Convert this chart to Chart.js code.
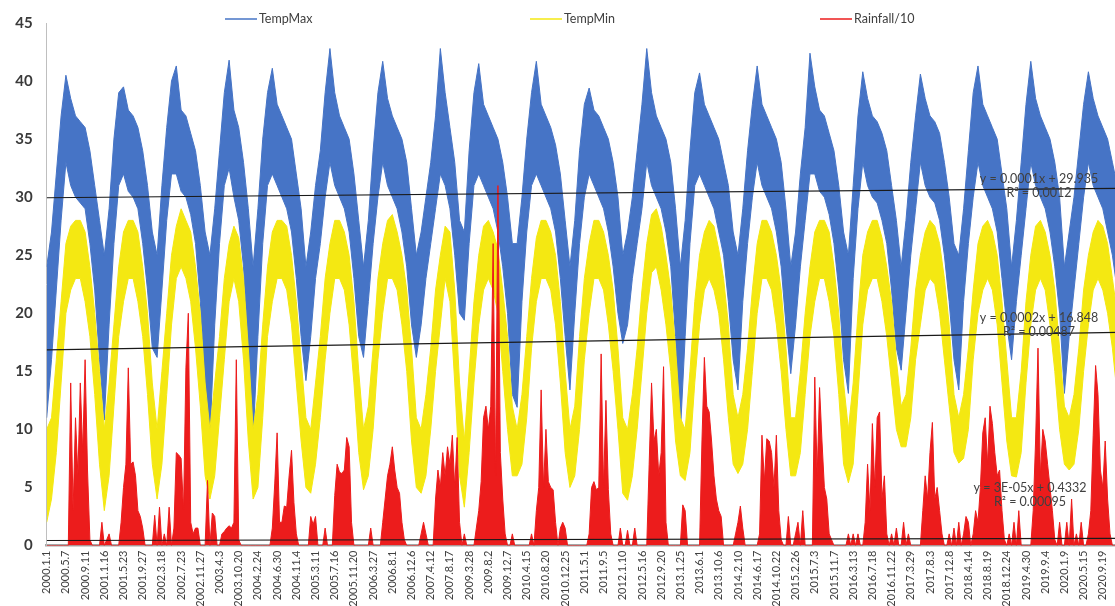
<!DOCTYPE html>
<html>
<head>
<meta charset="utf-8">
<title>TempMax, TempMin and Rainfall/10</title>
<script src="https://cdn.jsdelivr.net/npm/chart.js@4.4.1/dist/chart.umd.min.js"></script>
<style>
  html, body { margin: 0; padding: 0; background: #fff; overflow: hidden; }
  #wrap { width: 1121px; height: 606px; }
</style>
</head>
<body>
<div id="wrap"><canvas id="climateChart" width="1121" height="606"></canvas></div>
<script>
const BLUE = "#4674C6";
const YELLOW = "#F4E812";
const RED = "#EC1C1C";
const TEXT = "#404040";

// one label every 127 daily rows
const tickLabels = [
  "2000.1.1", "2000.5.7", "2000.9.11", "2001.1.16", "2001.5.23", "2001.9.27", "2002.3.18", "2002.7.23",
  "2002.11.27", "2003.4.3", "2003.10.20", "2004.2.24", "2004.6.30", "2004.11.4", "2005.3.11", "2005.7.16",
  "2005.11.20", "2006.3.27", "2006.8.1", "2006.12.6", "2007.4.12", "2007.8.17", "2009.3.28", "2009.8.2",
  "2009.12.7", "2010.4.15", "2010.8.20", "2010.12.25", "2011.5.1", "2011.9.5", "2012.1.10", "2012.5.16",
  "2012.9.20", "2013.1.25", "2013.6.1", "2013.10.6", "2014.2.10", "2014.6.17", "2014.10.22", "2015.2.26",
  "2015.7.3", "2015.11.7", "2016.3.13", "2016.7.18", "2016.11.22", "2017.3.29", "2017.8.3", "2017.12.8",
  "2018.4.14", "2018.8.19", "2018.12.24", "2019.4.30", "2019.9.4", "2020.1.9", "2020.5.15", "2020.9.19"
];

// temperature bands, read as upper / lower edge every quarter label step
const tmaxHi = [
  24, 27, 32, 37, 40.5, 38.5, 37, 36.5, 36, 34, 31, 28,
  25, 29, 35, 39, 39.5, 37.5, 37, 36, 34, 31, 27,
  25, 31, 36, 40, 41.3, 37.5, 37, 35.5, 34, 31, 27,
  25, 29, 34, 39, 41.8, 37.5, 36, 33, 29,
  24, 29, 35, 39, 41.1, 38, 37, 36, 35, 32, 29,
  24, 27, 31, 34, 39, 42.8, 39, 37, 36, 35, 32, 28,
  24, 28, 34, 39, 41.7, 38.5, 37, 36, 35, 33, 29,
  25, 27, 30, 33, 37, 42.8, 39, 36, 33, 28,
  27, 34, 39, 41.5, 38, 37, 36, 35, 33, 30, 26,
  26, 30, 35, 39, 41.7, 38, 37, 36, 34.5, 32, 28,
  24, 28, 34, 38, 39.4, 37.5, 37, 36, 35, 33, 30,
  25, 27, 30, 34, 38, 42.8, 39, 37, 36, 35, 33, 29,
  24, 28, 34, 39, 40.7, 38, 37, 36, 35, 33, 31, 27,
  25, 29, 34, 38, 41.3, 38, 37, 36, 35, 33, 29,
  24, 27, 32, 36, 42.4, 39.5, 37.5, 37, 35.5, 34, 31, 27,
  25, 31, 37, 40.8, 38.5, 37, 36.5, 35.5, 34, 31, 28,
  24, 28, 33, 37, 40.6, 38.5, 37, 36.5, 35.5, 33, 30, 26,
  25, 29, 34, 39, 41.3, 38, 37, 36, 35, 32, 29,
  24, 28, 33, 38, 41.7, 38.5, 37, 36, 35, 33, 30,
  24, 27, 30, 34, 38, 40.8, 38.5, 37, 36, 35, 33, 31
];
const tmaxLo = [
  11, 16, 22, 28, 33, 31, 30, 29.5, 29, 26, 22, 16,
  10.8, 19, 26, 31, 32, 30.5, 30, 29, 26, 22, 17,
  16.2, 22, 28, 32, 32, 30.5, 30, 28.5, 26, 21, 14,
  9.3, 19, 26, 31, 32.5, 30, 28, 24, 17,
  9.2, 18, 26, 31, 32, 31, 30, 29, 27, 23, 18,
  14.2, 18, 23, 26, 30, 33, 31, 30, 29, 27, 23, 18,
  16.2, 21, 26, 30, 33, 31, 30, 29, 27, 24, 19,
  16.2, 19, 23, 26, 29, 32, 31, 29, 25, 20,
  19.4, 26, 31, 32, 31, 30, 29, 27, 24, 20, 13,
  11.9, 21, 27, 31, 32, 31, 30, 29, 27, 23, 18,
  13.4, 20, 26, 30, 32, 31, 30, 29, 27, 24, 20,
  17.4, 19, 23, 26, 29, 33, 31, 30, 29, 27, 24, 18,
  9.7, 18, 26, 31, 32, 31, 30, 29, 27, 25, 21, 16,
  13.4, 21, 26, 30, 33, 31, 30, 29, 27, 24, 19,
  14.8, 19, 24, 28, 32, 32, 30.5, 30, 28.5, 26, 22, 16,
  13.1, 23, 29, 33, 31, 30, 29.5, 28, 26, 22, 17,
  15.1, 20, 25, 29, 33, 31, 30, 29.5, 28, 25, 21, 16,
  13.4, 21, 26, 30, 33, 31, 30, 29, 27, 23, 19,
  16, 21, 25, 29, 33, 31, 30, 29, 27, 24, 20,
  13.1, 18, 22, 26, 30, 33, 31, 30, 29, 27, 25, 22
];
const tminHi = [
  10, 11, 16, 21, 26, 27.5, 28, 28, 27, 24, 20, 15,
  10, 14, 19, 24, 27, 28, 28, 27, 24, 20, 14,
  10, 15, 20, 25, 27.5, 29, 28, 27, 24, 20, 14,
  10, 14, 18, 23, 26, 27.5, 26.5, 23, 17,
  10, 13, 19, 24, 27, 28, 28, 27.5, 25, 21, 16,
  11, 10, 14, 18, 23, 26, 28, 28, 27, 25, 21, 15,
  10, 12, 17, 23, 26, 28, 28.5, 27, 25, 22, 17,
  11, 10, 13, 17, 22, 25, 27.5, 27, 22, 14,
  9, 15, 21, 25, 27.5, 28, 27, 25.5, 22, 18, 12,
  10, 13, 18, 23, 26.5, 28, 28, 27, 25, 21, 15,
  10, 12, 18, 23, 26, 28, 28, 27, 25, 22, 17,
  11, 10, 13, 17, 22, 26, 28.5, 29, 27.5, 25, 22, 17,
  11, 10, 15, 21, 25, 27, 28, 27.5, 25.5, 23, 19, 13,
  11, 13, 17, 22, 26, 28, 28, 27, 25, 22, 17,
  11, 11, 15, 20, 24, 27, 28, 28, 27, 24, 20, 14,
  10, 14, 20, 25, 27, 28, 28, 26.5, 24, 21, 16,
  12, 13, 17, 22, 25, 27, 28, 27.5, 26, 23, 19, 13,
  11, 13, 17, 22, 26, 27.5, 28, 27, 25, 21, 16,
  11, 11, 15, 21, 25, 27.5, 28, 27, 25, 22, 17,
  12, 11, 13, 17, 22, 25, 27, 28, 27.5, 26, 23, 20
];
const tminLo = [
  2, 4, 8, 14, 20, 22, 23, 23, 21, 18, 13, 7,
  3, 6, 12, 18, 21, 23, 23, 21, 18, 13, 7,
  4, 7, 13, 19, 23, 24, 23, 21, 17, 12, 6,
  4, 6, 11, 16, 21, 23, 21, 16, 9,
  4, 5, 11, 18, 21, 23, 23, 22, 19, 14, 9,
  5, 4.5, 7, 11, 16, 20, 23, 23, 22, 19, 14, 8,
  4.8, 6, 10, 16, 20, 23, 23, 22, 19, 15, 9,
  5, 4.5, 6, 10, 15, 19, 23, 21, 14, 6,
  3.3, 8, 14, 19, 22, 23, 22, 20, 15, 10, 6,
  6, 7, 11, 17, 21, 23, 23, 22, 19, 14, 8,
  5, 6, 10, 16, 20, 23, 23, 22, 19, 15, 10,
  4.5, 3.9, 6, 10, 15, 20, 23.5, 24, 22, 19, 15, 9,
  6, 5.6, 8, 14, 19, 22, 23, 22, 20, 16, 11, 7,
  6.2, 7, 10, 15, 20, 23, 23, 22, 19, 15, 10,
  6, 6, 8, 13, 18, 21, 23, 23, 21, 18, 13, 7,
  5.4, 7, 13, 19, 22, 23, 23, 21, 18, 14, 10,
  8.5, 8.5, 11, 16, 19, 22, 23, 22.5, 20, 16, 12, 8,
  7.1, 7.5, 10, 16, 20, 22, 23, 22, 19, 14, 9,
  6, 5.9, 8, 14, 19, 22, 23, 22, 19, 15, 10,
  7, 6.5, 7, 10, 15, 19, 22, 23, 22, 20, 17, 13
];

// rainfall / 10, eight readings per label step
const rain = [
  0, 0, 0, 0, 0, 0, 0, 0,
  0, 0, 14, 3, 11, 6, 14, 8,
  16, 6.5, 0.5, 0, 0, 0, 0, 2,
  0, 0.5, 1, 0, 0, 0, 0, 2,
  5, 7, 15.3, 7, 7.2, 6, 3, 2.5,
  1.5, 0, 0, 0, 0, 2.6, 0, 3.3,
  0, 1, 0, 3.3, 0, 1.5, 8, 7.8,
  7.5, 3, 15.3, 20, 2, 1, 1.5, 1.5,
  0, 0, 0, 5.6, 0, 2.8, 2.5, 0,
  0, 1, 1.2, 1.5, 1.7, 1.5, 2, 16,
  0.5, 0, 0, 0, 0, 0, 0, 0,
  0, 0, 0, 0, 0, 0, 1.5, 5.3,
  9.7, 2, 2, 3.4, 3.3, 6, 8.2, 3.7,
  1, 0, 0, 0, 0, 0, 2.5, 1.8,
  2.5, 0, 0, 0, 1.5, 0, 0, 0,
  4.3, 7, 6.3, 6.2, 6.5, 9.3, 8.5, 2,
  0, 0, 0, 0, 0, 0, 0, 1.5,
  0, 0, 0, 0, 2, 4, 6, 7,
  8.5, 6.5, 5, 4.5, 2, 0.5, 0, 0,
  0, 0, 0, 0, 1, 2, 1, 0,
  0, 0, 4, 6.5, 5, 8, 6, 8.5,
  7, 9.5, 5, 9.3, 2, 0, 1, 0,
  0, 0, 0, 1.5, 3, 5.5, 11, 12,
  10, 12, 26, 6, 31, 8, 4, 1,
  0, 0, 1, 0, 0, 0, 0, 0,
  0, 0, 1, 0, 3, 5, 13.4, 5,
  10, 5.5, 5, 4.8, 2, 0, 1.5, 2,
  1.5, 0, 0, 0, 0, 0, 0, 0,
  0, 0, 1, 5, 5.5, 4.8, 5, 16.5,
  5, 12.5, 4.8, 1, 0, 0, 0, 1.5,
  0, 0, 1.3, 0, 0, 1.5, 0, 0,
  0, 0, 0, 7, 14, 9, 10, 6,
  8, 15.4, 2, 0, 0, 0, 0, 0,
  0, 3.5, 3, 0, 0, 0, 0, 0,
  0, 9, 16.2, 12, 11.5, 9, 6, 4,
  3, 2.5, 0, 0, 0, 0, 0, 1,
  2, 3.4, 1.5, 0, 0, 0, 0, 0,
  0, 1, 9.5, 5.5, 9.2, 9, 8, 5,
  9.5, 3, 0.5, 0, 0, 2.5, 0, 0,
  1, 2, 0, 3, 0, 0, 0, 0,
  14.5, 6, 13.6, 9, 5, 4, 1, 0.5,
  0, 0, 0, 0, 0, 0, 1, 0,
  1, 0, 1, 0, 0, 2, 7, 3,
  10.5, 5, 11, 11.5, 4, 6, 1, 0,
  1, 0, 1.5, 0, 0, 2, 0, 1,
  0, 0, 0, 0, 0, 3, 6, 4,
  8, 10.6, 4, 5, 3, 1, 0, 0,
  1, 0, 1.5, 0, 2, 0, 1, 2.5,
  2, 0, 1, 3, 2, 5, 9.7, 11,
  7, 12, 10.5, 8, 6, 6.5, 3, 0.5,
  0, 1, 0, 2, 0, 3, 0, 0,
  0, 0, 0, 3, 9, 17, 6, 10,
  9, 7, 5, 3, 0.5, 0, 2, 0,
  0, 2, 0, 4, 0, 1, 0, 2,
  0, 0, 1, 3, 9.5, 15.5, 13, 6.5,
  5, 9, 4, 1, 0, 0, 0, 0
];

// linear trendlines: value at first and last row
const trendMax = [29.95, 30.75];
const trendMin = [16.85, 18.35];
const trendRain = [0.43, 0.62];

const X_END = 55.8;
const toPoints = (arr, step) => arr.map((v, i) => ({ x: i * step, y: v }));
const trendPoints = (pair) => [{ x: 0, y: pair[0] }, { x: X_END, y: pair[1] }];

const bandLine = (label, data, color, fill, order) => ({
  label, data, fill, order,
  borderColor: color,
  backgroundColor: color,
  borderWidth: 1,
  pointRadius: 0,
  tension: 0
});

const trendLine = (label, pair) => ({
  label,
  data: trendPoints(pair),
  borderColor: "#1a1a1a",
  borderWidth: 1.2,
  pointRadius: 0,
  fill: false,
  order: 0
});

const legendPlugin = {
  id: "topLegend",
  afterDraw(chart, args, opts) {
    const ctx = chart.ctx;
    ctx.save();
    ctx.font = "12.5px Lato";
    ctx.textBaseline = "middle";
    opts.items.forEach(item => {
      ctx.strokeStyle = item.color;
      ctx.lineWidth = 1.5;
      ctx.beginPath();
      ctx.moveTo(item.x, opts.y);
      ctx.lineTo(item.x + 32, opts.y);
      ctx.stroke();
      ctx.fillStyle = TEXT;
      ctx.fillText(item.text, item.x + 34, opts.y);
    });
    ctx.restore();
  }
};

const trendNotePlugin = {
  id: "trendNotes",
  afterDatasetsDraw(chart, args, opts) {
    const ctx = chart.ctx;
    ctx.save();
    ctx.font = "12.5px Lato";
    ctx.fillStyle = TEXT;
    ctx.textAlign = "center";
    ctx.textBaseline = "middle";
    opts.notes.forEach(n => {
      n.lines.forEach((line, k) => ctx.fillText(line, n.x, n.y + k * 14));
    });
    ctx.restore();
  }
};

const ctx = document.getElementById("climateChart").getContext("2d");
new Chart(ctx, {
  type: "line",
  data: {
    datasets: [
      bandLine("Rainfall/10", toPoints(rain, 0.125), RED, "origin", 1),
      bandLine("TempMin", toPoints(tminHi, 0.25), YELLOW, "+1", 2),
      bandLine("TempMin low", toPoints(tminLo, 0.25), YELLOW, false, 2),
      bandLine("TempMax", toPoints(tmaxHi, 0.25), BLUE, "+1", 3),
      bandLine("TempMax low", toPoints(tmaxLo, 0.25), BLUE, false, 3),
      trendLine("Trend TempMax", trendMax),
      trendLine("Trend TempMin", trendMin),
      trendLine("Trend Rainfall", trendRain)
    ]
  },
  plugins: [legendPlugin, trendNotePlugin],
  options: {
    responsive: false,
    animation: false,
    events: [],
    layout: { autoPadding: false, padding: { left: 0, top: 22, right: 0, bottom: 0 } },
    plugins: {
      legend: { display: false },
      tooltip: { enabled: false },
      topLegend: {
        y: 19,
        items: [
          { text: "TempMax", color: BLUE, x: 225 },
          { text: "TempMin", color: YELLOW, x: 530 },
          { text: "Rainfall/10", color: RED, x: 820 }
        ]
      },
      trendNotes: {
        notes: [
          { lines: ["y = 0.0001x + 29.935", "R\u00B2 = 0.0012"], x: 1039, y: 179 },
          { lines: ["y = 0.0002x + 16.848", "R\u00B2 = 0.00487"], x: 1039, y: 318 },
          { lines: ["y = 3E-05x + 0.4332", "R\u00B2 = 0.00095"], x: 1030, y: 488 }
        ]
      }
    },
    scales: {
      x: {
        type: "linear",
        min: 0,
        max: X_END,
        afterBuildTicks: s => { s.ticks = tickLabels.map((_, i) => ({ value: i })); },
        afterFit: s => { s.height = 60.5; },
        ticks: {
          autoSkip: false,
          minRotation: 90,
          maxRotation: 90,
          padding: 5,
          color: TEXT,
          font: { family: "Lato", size: 11 },
          callback: v => tickLabels[v] ?? ""
        },
        grid: { display: false, drawTicks: false },
        border: { color: "#A6A6A6", width: 2.5 }
      },
      y: {
        min: 0,
        max: 45,
        afterFit: s => { s.width = 46.7; },
        ticks: {
          stepSize: 5,
          padding: 14,
          color: "#3a3a3a",
          font: { family: "Lato", size: 15, weight: "bold" }
        },
        grid: { display: false, drawTicks: false },
        border: { color: "#BFBFBF", width: 1 }
      }
    }
  }
});
</script>
</body>
</html>
